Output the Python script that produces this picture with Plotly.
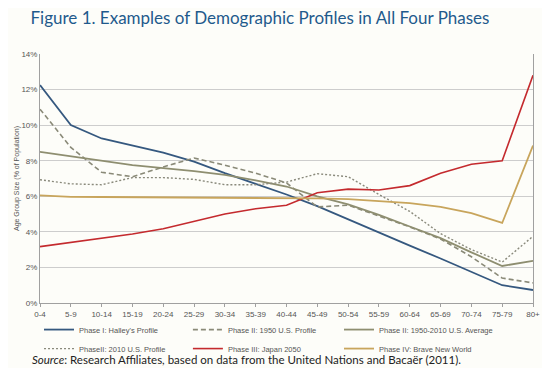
import plotly.graph_objects as go

age_groups = ["0-4", "5-9", "10-14", "15-19", "20-24", "25-29", "30-34", "35-39",
              "40-44", "45-49", "50-54", "55-59", "60-64", "65-69", "70-74", "75-79", "80+"]

halley = [12.25, 10.0, 9.25, 8.85, 8.45, 7.95, 7.3, 6.7, 6.1, 5.45, 4.7, 3.97, 3.23, 2.5, 1.75, 1.0, 0.73]
us_1950 = [10.9, 8.75, 7.35, 7.1, 7.65, 8.15, 7.75, 7.3, 6.75, 5.4, 5.5, 4.88, 4.28, 3.6, 2.6, 1.4, 1.13]
us_avg = [8.5, 8.25, 7.98, 7.75, 7.58, 7.42, 7.2, 6.9, 6.55, 6.0, 5.55, 4.95, 4.3, 3.65, 2.85, 2.08, 2.37]
us_2010 = [6.93, 6.7, 6.65, 7.05, 7.05, 6.95, 6.65, 6.65, 6.8, 7.27, 7.1, 6.1, 5.15, 3.9, 3.0, 2.3, 3.75]
japan_2050 = [3.17, 3.4, 3.62, 3.88, 4.17, 4.58, 5.0, 5.3, 5.5, 6.2, 6.4, 6.35, 6.6, 7.3, 7.8, 8.0, 12.8]
brave_new = [6.05, 5.97, 5.96, 5.95, 5.95, 5.94, 5.93, 5.92, 5.9, 5.88, 5.84, 5.75, 5.62, 5.4, 5.05, 4.5, 8.85]

# name, values, colour, dash, width, legend column
series = [
    ("Phase I: Halley's Profile", halley, "#35587f", "solid", 1.8, "legend"),
    ("Phase II: 1950 U.S. Profile", us_1950, "#8a8a78", "5px,3px", 1.6, "legend2"),
    ("Phase II: 1950-2010 U.S. Average", us_avg, "#8e8e70", "solid", 1.8, "legend3"),
    ("PhaseII: 2010 U.S. Profile", us_2010, "#8a8a7c", "2px,2px", 1.4, "legend"),
    ("Phase III: Japan 2050", japan_2050, "#c42a2e", "solid", 1.6, "legend2"),
    ("Phase IV: Brave New World", brave_new, "#c8a55c", "solid", 1.8, "legend3"),
]

fig = go.Figure()
for name, vals, color, dash, w, lg in series:
    fig.add_trace(go.Scatter(x=age_groups, y=vals, mode="lines", name=name, legend=lg,
                             line=dict(color=color, dash=dash, width=w)))

bg = "#fdfdf9"
legend_common = dict(orientation="v", xref="paper", yref="container",
                     xanchor="left", y=0.147, yanchor="top",
                     font=dict(size=7.5, color="#555555"), bgcolor="rgba(0,0,0,0)",
                     tracegroupgap=0)

fig.update_layout(
    width=542, height=360,
    margin=dict(l=32, r=17, t=46, b=65),
    paper_bgcolor=bg, plot_bgcolor=bg,
    font=dict(family="Liberation Sans, Arial, sans-serif", color="#555555", size=8),
    title=dict(text="Figure 1. Examples of Demographic Profiles in All Four Phases",
               x=0.0415, xanchor="left", y=0.972, yanchor="middle",
               font=dict(family="Lato, sans-serif", size=17, color="#1f5a8c")),
    showlegend=True,
    legend=dict(x=-0.002, **legend_common),
    legend2=dict(x=0.3, **legend_common),
    legend3=dict(x=0.6065, **legend_common),
    xaxis=dict(type="category", range=[0, 16], showgrid=False, showline=True,
               linecolor="#a0a0a0", linewidth=1, ticks="outside", ticklen=3,
               tickcolor="#a0a0a0", tickfont=dict(size=8, color="#555555"),
               automargin=False),
    yaxis=dict(range=[0, 14], dtick=2, ticksuffix="%", showgrid=True,
               gridcolor="#cdcdcd", gridwidth=1, showline=True, mirror=True,
               linecolor="#a0a0a0", linewidth=1, zeroline=False,
               tickfont=dict(size=8, color="#555555"), automargin=False,
               title=dict(text="Age Group Size (% of Population)",
                          font=dict(size=7, color="#555555"), standoff=0)),
    annotations=[dict(text="<i>Source</i>: Research Affiliates, based on data from the United Nations and Bacaër (2011).",
                      xref="paper", yref="paper", x=-0.0203, xanchor="left",
                      y=-0.225, yanchor="middle", showarrow=False,
                      font=dict(family="Lato, sans-serif", size=11.5, color="#222222"))],
)

fig.write_html("out.html")
